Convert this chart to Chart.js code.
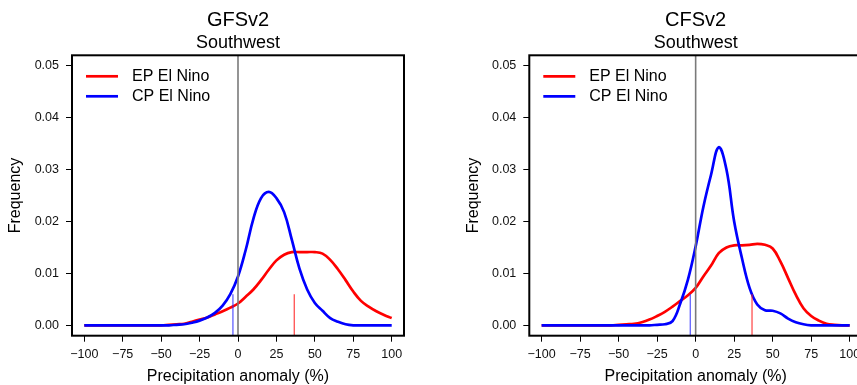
<!DOCTYPE html>
<html>
<head>
<meta charset="utf-8">
<script src="https://cdn.jsdelivr.net/npm/chart.js@4.4.0/dist/chart.umd.min.js"></script>
<style>
  html, body { margin: 0; padding: 0; background: #fff; overflow: hidden; }
  body { width: 857px; height: 385px; position: relative; }
  canvas { position: absolute; top: 0; }
  #gfs { left: 0; }
  #cfs { left: 430px; }
</style>
</head>
<body>
<canvas id="gfs" width="430" height="385"></canvas>
<canvas id="cfs" width="440" height="385"></canvas>
<script>
// precipitation anomaly grid (%), every 5
const xGrid = [-100, -95, -90, -85, -80, -75, -70, -65, -60, -55, -50, -45, -40, -35, -30, -25, -20, -15, -10, -5,
  0, 5, 10, 15, 20, 25, 30, 35, 40, 45, 50, 55, 60, 65, 70, 75, 80, 85, 90, 95, 100];

// density curves
const gfsEP = [0, 0, 0, 0, 0, 0, 0, 0, 0, 0, 0, 0.0001, 0.0002, 0.0003, 0.0007, 0.0011, 0.0015, 0.0021, 0.0027, 0.0034,
  0.0042, 0.0055, 0.0069, 0.0087, 0.0107, 0.0125, 0.0136, 0.0141, 0.0141, 0.0141, 0.0141, 0.0138, 0.0126, 0.0108, 0.0087,
  0.0065, 0.0047, 0.0036, 0.0027, 0.0020, 0.0014];
const gfsCP = [0, 0, 0, 0, 0, 0, 0, 0, 0, 0, 0, 0, 0.0001, 0.0002, 0.0005, 0.0009, 0.0015, 0.0024, 0.0038, 0.0060,
  0.0094, 0.0145, 0.0205, 0.0245, 0.0257, 0.0245, 0.0218, 0.0165, 0.0109, 0.0069, 0.0043, 0.0028, 0.0014, 0.0007, 0.0002,
  0, 0, 0, 0, 0, 0];
const cfsEP = [0, 0, 0, 0, 0, 0, 0, 0, 0, 0, 0.0001, 0.0002, 0.0003, 0.0006, 0.0011, 0.0018, 0.0026, 0.0036, 0.0047, 0.0058,
  0.0072, 0.0094, 0.0115, 0.0139, 0.0150, 0.0154, 0.0154, 0.0155, 0.0157, 0.0155, 0.0148, 0.0123, 0.0091, 0.0059, 0.0033,
  0.0018, 0.0009, 0.0003, 0.0001, 0, 0];
const cfsCP = [0, 0, 0, 0, 0, 0, 0, 0, 0, 0, 0, 0, 0, 0, 0, 0.0001, 0.0002, 0.0008, 0.0042, 0.0088,
  0.0152, 0.0228, 0.0290, 0.0343, 0.0300, 0.0200, 0.0130, 0.0072, 0.0040, 0.0029, 0.0028, 0.0023, 0.0013, 0.0006, 0.0002,
  0, 0, 0, 0, 0, 0];

// short marks at the bottom (mean anomaly of each type)
const gfsMeans = { ep: 36.6, cp: -3.3 };
const cfsMeans = { ep: 36.6, cp: -3.5 };
const meanMarkTop = 0.006;
const zeroLine = 0;

const seriesNames = ['EP El Nino', 'CP El Nino'];
const xTicks = [-100, -75, -50, -25, 0, 25, 50, 75, 100];
const xTickLabels = ['\u2212100', '\u221275', '\u221250', '\u221225', '0', '25', '50', '75', '100'];
const yTicks = [0, 0.01, 0.02, 0.03, 0.04, 0.05];
const yTickLabels = ['0.00', '0.01', '0.02', '0.03', '0.04', '0.05'];
const xMin = -108, xMax = 108, yMin = -0.002, yMax = 0.052;

const FONT = '"Liberation Sans", Arial, Helvetica, sans-serif';

// R style frame round the plot region
const frame = {
  id: 'frame',
  afterDatasetsDraw(chart) {
    const { ctx, chartArea: a } = chart;
    ctx.save();
    ctx.strokeStyle = '#000';
    ctx.lineWidth = 2;
    ctx.strokeRect(a.left, a.top, a.right - a.left, a.bottom - a.top);
    ctx.restore();
  }
};

// legend sitting inside the plot, top left
const insetLegend = {
  id: 'insetLegend',
  afterDraw(chart) {
    const { ctx, chartArea: a } = chart;
    const items = chart.data.datasets.filter(d => seriesNames.includes(d.label));
    ctx.save();
    ctx.font = '16px ' + FONT;
    ctx.textBaseline = 'middle';
    items.forEach((d, i) => {
      const y = a.top + 21 + i * 20;
      ctx.strokeStyle = d.borderColor;
      ctx.lineWidth = d.borderWidth;
      ctx.beginPath();
      ctx.moveTo(a.left + 14, y);
      ctx.lineTo(a.left + 46, y);
      ctx.stroke();
      ctx.fillStyle = '#000';
      ctx.fillText(d.label, a.left + 60, y);
    });
    ctx.restore();
  }
};

function curve(values) {
  return xGrid.map((x, i) => ({ x: x, y: values[i] }));
}

function makePanel(id, model, ep, cp, means, padLeft, padRight) {
  const ctx = document.getElementById(id).getContext('2d');
  return new Chart(ctx, {
    type: 'line',
    data: {
      datasets: [
        { label: seriesNames[0], data: curve(ep), borderColor: '#ff0000', borderWidth: 2.7, tension: 0.4, order: 4 },
        { label: seriesNames[1], data: curve(cp), borderColor: '#0000ff', borderWidth: 2.7, tension: 0.4, order: 3 },
        { label: 'zero', data: [{ x: zeroLine, y: yMin }, { x: zeroLine, y: yMax }], borderColor: '#7a7a7a', borderWidth: 1.6, order: 2 },
        { label: 'ep mean', data: [{ x: means.ep, y: yMin }, { x: means.ep, y: meanMarkTop }], borderColor: 'rgba(255,30,30,0.85)', borderWidth: 1.2, order: 1 },
        { label: 'cp mean', data: [{ x: means.cp, y: yMin }, { x: means.cp, y: meanMarkTop }], borderColor: 'rgba(40,40,255,0.8)', borderWidth: 1.2, order: 0 }
      ]
    },
    options: {
      responsive: false,
      animation: false,
      events: [],
      elements: { point: { radius: 0 }, line: { fill: false, tension: 0 } },
      layout: { padding: { left: padLeft, right: padRight, top: 0, bottom: 0 } },
      plugins: {
        legend: { display: false },
        tooltip: { enabled: false },
        title: {
          display: true, text: model, fullSize: false, color: '#000',
          font: { family: FONT, size: 20, weight: 'normal', lineHeight: 1.2 },
          padding: { top: 8, bottom: 0 }
        },
        subtitle: {
          display: true, text: 'Southwest', fullSize: false, color: '#000',
          font: { family: FONT, size: 18, weight: 'normal', lineHeight: 1.2 },
          padding: { top: 0, bottom: 1.7 }
        }
      },
      scales: {
        x: {
          type: 'linear', min: xMin, max: xMax,
          afterBuildTicks: s => { s.ticks = xTicks.map(v => ({ value: v })); },
          afterFit: s => { s.height = 49.3; },
          grid: { drawOnChartArea: false, drawTicks: true, tickLength: 6, color: '#000', lineWidth: 1 },
          border: { display: false },
          ticks: {
            color: '#111', padding: 5, maxRotation: 0, autoSkip: false,
            font: { family: FONT, size: 12.5 },
            callback: (v, i) => xTickLabels[i]
          },
          title: {
            display: true, text: 'Precipitation anomaly (%)', color: '#000',
            font: { family: FONT, size: 16, lineHeight: 1 }, padding: { top: 0, bottom: 0.3 }
          }
        },
        y: {
          type: 'linear', min: yMin, max: yMax,
          afterBuildTicks: s => { s.ticks = yTicks.map(v => ({ value: v })); },
          afterFit: s => { s.width = 72; },
          grid: { drawOnChartArea: false, drawTicks: true, tickLength: 6, color: '#000', lineWidth: 1 },
          border: { display: false },
          ticks: {
            color: '#111', padding: 7, autoSkip: false,
            font: { family: FONT, size: 12.5 },
            callback: (v, i) => yTickLabels[i]
          },
          title: {
            display: true, text: 'Frequency', color: '#000',
            font: { family: FONT, size: 16, lineHeight: 1 }, padding: { top: 8, bottom: 0 }
          }
        }
      }
    },
    plugins: [frame, insetLegend]
  });
}

makePanel('gfs', 'GFSv2', gfsEP, gfsCP, gfsMeans, 0, 26);
makePanel('cfs', 'CFSv2', cfsEP, cfsCP, cfsMeans, 27.3, 8);
</script>
</body>
</html>
